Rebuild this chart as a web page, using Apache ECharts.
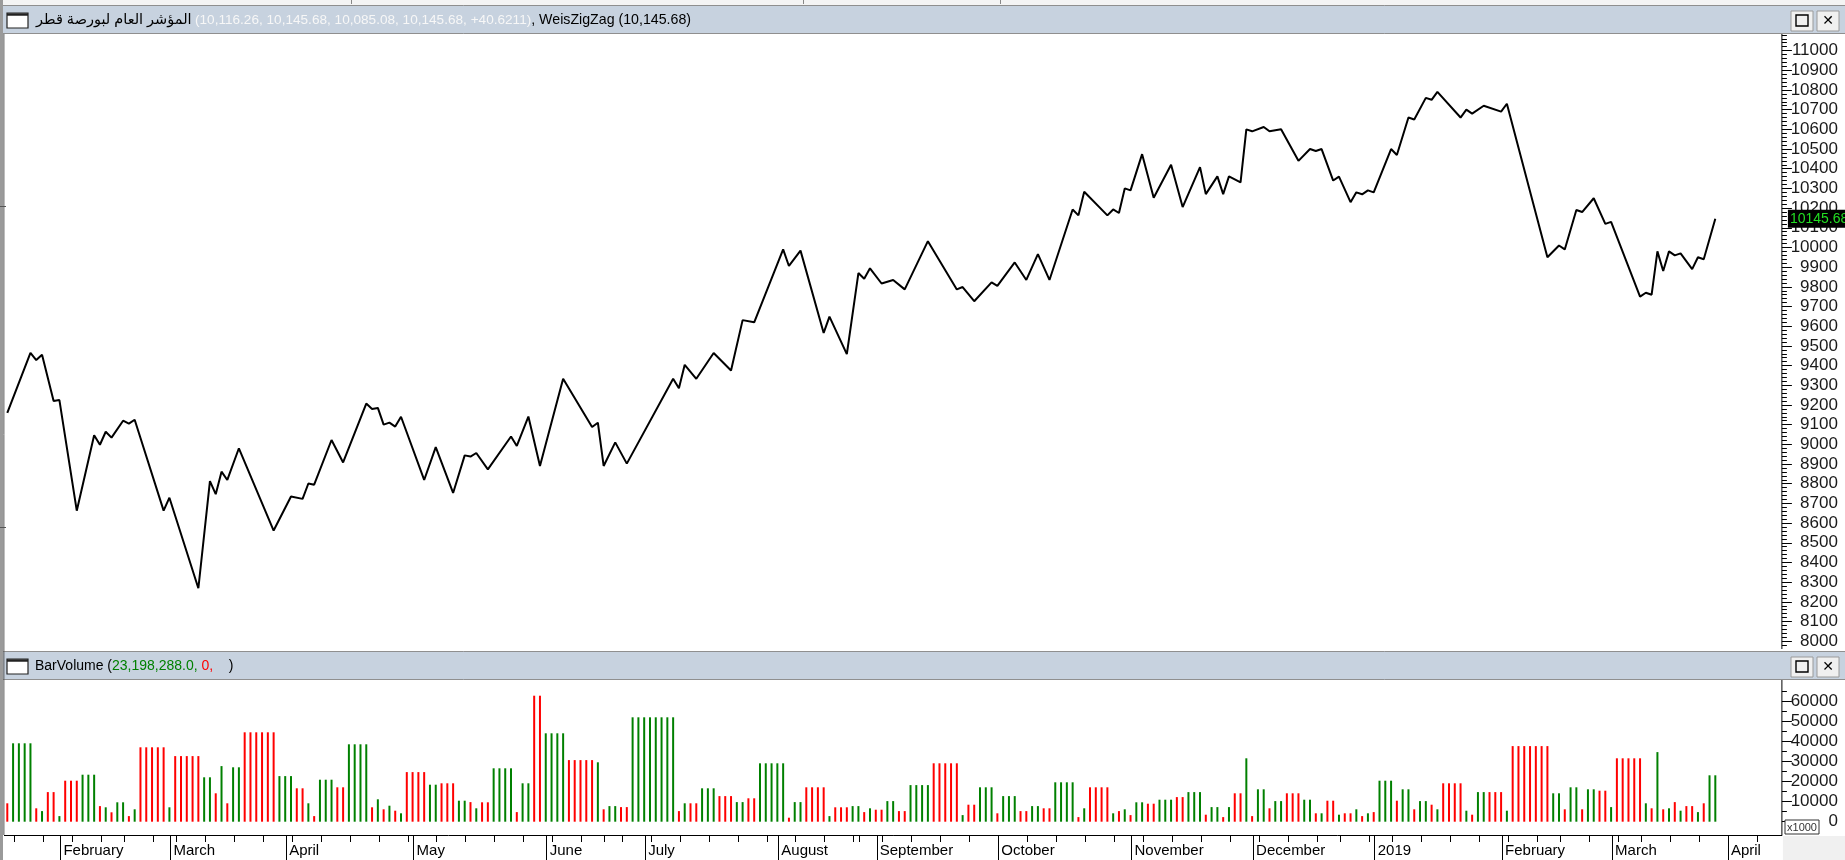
<!DOCTYPE html>
<html><head><meta charset="utf-8">
<script src="https://cdn.jsdelivr.net/npm/echarts@6/dist/echarts.min.js"></script>
<style>html,body{margin:0;padding:0;background:#fff;overflow:hidden}#c{width:1845px;height:860px}</style>
</head><body><div id="c"></div>
<script>
// ---------------- DATA ----------------
const titleName = 'المؤشر العام لبورصة قطر';
const titleValues = '(10,116.26, 10,145.68, 10,085.08, 10,145.68, +40.6211)';
const titleStudy = ', WeisZigZag (10,145.68)';
const volTitle = ['BarVolume (', '23,198,288.0,', ' 0,', '    )'];
const lastPrice = 10145.68;

// zigzag pivots: trading-day index and index value
const pivotIdx = [0,4,5,6,8,9,12,15,16,17,18,20,21,22,27,28,33,35,36,37,38,40,46,49,51,52,53,56,58,62,
  63,64,65,66,67,68,72,74,77,79,80,81,83,87,88,90,92,96,101,102,103,105,107,115,116,117,119,122,125,127,
  129,134,135,137,141,142,145,147,148,149,151,153,155,159,164,165,167,170,171,174,176,178,180,184,185,186,190,191,192,193,
  194,196,198,201,203,206,207,209,210,211,213,214,215,217,218,220,223,225,226,227,229,230,232,233,234,235,236,239,240,242,
  243,245,246,247,251,252,253,255,258,259,266,268,269,271,272,274,276,277,282,283,284,285,286,287,288,289,291,292,293,295];
const pivotVal = [9160,9465,9428,9455,9220,9225,8663,9046,8998,9064,9034,9120,9105,9125,8663,8729,8269,8813,8747,8861,8819,8980,8562,8735,8723,8801,8795,9022,8908,9207,
  9180,9185,9100,9110,9090,9140,8819,8986,8753,8944,8938,8956,8873,9040,8992,9141,8890,9333,9088,9110,8890,9010,8902,9333,9285,9404,9333,9464,9375,9631,
  9620,9990,9906,9984,9566,9649,9458,9870,9841,9894,9817,9835,9787,10032,9787,9799,9727,9823,9805,9924,9835,9966,9835,10193,10163,10283,10163,10193,10175,10300,
  10290,10474,10253,10420,10205,10408,10271,10361,10271,10361,10331,10600,10590,10612,10590,10600,10440,10500,10490,10500,10340,10360,10230,10280,10270,10290,10280,10500,10470,10660,
  10650,10760,10750,10790,10660,10700,10680,10720,10690,10730,9950,10010,9990,10190,10180,10250,10120,10130,9750,9770,9760,9980,9880,9980,9960,9970,9890,9950,9940,10145.68];

// BarVolume (thousands of shares), one per trading day
const volume = [
  9200,39200,39200,39200,39200,6700,5300,14800,14800,2800,
  20500,20500,20500,23500,23500,23500,7800,7200,4700,9700,
  9700,2800,6200,37200,37200,37200,37200,37200,7200,32800,
  32800,32800,32800,32800,22200,22200,14200,27800,9200,27200,
  27200,44700,44700,44700,44700,44700,44700,22800,22800,22800,
  16700,16700,9200,2800,21000,21000,21000,17200,17200,38700,
  38700,38700,38700,7200,11200,6200,8000,5500,4200,24800,
  24800,24800,24800,18500,18500,19200,19200,19200,10500,10500,
  9800,6700,9700,9700,26700,26700,26700,26700,4800,19200,
  19200,63000,63000,44200,44200,44200,44200,30800,30800,30800,
  30800,30800,29700,6200,7800,7800,7300,7300,52200,52200,
  52200,52200,52200,52200,52200,52200,5300,9200,9200,9200,
  16700,16700,16700,12800,12800,12800,9800,9800,11700,11700,
  29200,29200,29200,29200,29200,2000,9800,9800,17200,17200,
  17200,17200,2800,7200,7200,7200,7800,7800,4800,6700,
  6000,6000,10300,10300,5300,5300,18300,18300,18300,18300,
  29200,29200,29200,29200,29200,3300,8500,8500,17200,17200,
  17200,4200,12800,12800,12800,5300,5300,7800,7800,6700,
  6700,19700,19700,19700,19700,2300,6700,17200,17200,17200,
  17200,4200,5300,6200,3300,9700,9700,9000,9000,11000,
  11000,11000,12300,12300,14800,14800,14800,3500,7300,7300,
  2300,7300,14200,14200,31700,2800,16200,16200,6700,10300,
  10300,14200,14200,14200,11000,11000,4200,4200,10500,10500,
  3500,4200,4200,6200,2800,4200,4800,20500,20500,20500,
  10500,16200,16200,6200,10300,10300,8500,6200,19200,19200,
  19200,19200,5500,3500,14800,14800,14800,14800,14800,5500,
  37800,37800,37800,37800,37800,37800,37800,14200,14200,6200,
  17200,17200,6200,16200,16200,15500,15500,7300,31700,31700,
  31700,31700,31700,9200,6700,34800,6200,6700,9800,5500,
  7800,7800,4800,9200,23200,23200];
// wave direction of each bar: u = up wave (green), d = down wave (red)
const volDir = ('d uuuu d u dd u ddd uuu d u d uu d u ddddd u ddddd uu d u d uu dddddd uuu ' +
  'dd u d uuu dd uuuu d u d u d u dddd uu ddd uu d u dd uuuu d uu dd uuuu ddd ' +
  'dd u d uu dd uuuuuuuu d u dd uuu ddd uu dd uuuuu d uu dddd u ddd uu d u ' +
  'dd uu dd uuuu ddddd u dd uuu d uuu dd uu dd uuuu d u dddd u d u d uu dd u ' +
  'uu dd uuu d uu d u dd u d uu d uu ddd uu d u dd u dd u d u d uuu d uu d uu d u dd ' +
  'dd u d uu ddd u ddddddd uu d uu d uu dd u ddddd u d u d u d u dd u d uu').replace(/ /g, '').split('');

// x axis: first trading-day index of each month, month names, and week boundaries (index of last bar before a new week)
const monthStart = [10, 29, 49, 71, 94, 111, 134, 151, 172, 195, 216, 237, 259, 278, 298];
const monthNames = ['February','March','April','May','June','July','August','September','October','November','December','2019','February','March','April'];
const weekEnd = [1,6,11,16,20,25,29,34,39,44,49,54,59,64,69,74,79,84,89,94,99,103,106,111,116,121,126,131,136,141,146,147,
  151,156,161,166,171,176,181,186,191,196,201,206,211,216,221,226,230,235,239,244,249,254,259,264,268,273,278,282,287,292,297,302];
const slots = 307; // trading-day slots shown on the x axis

const priceTicks = []; for (let v = 8000; v <= 11000; v += 100) priceTicks.push(v);
const volTicks = [0, 10000, 20000, 30000, 40000, 50000, 60000];

// ---------------- LAYOUT ----------------
const W = 1845, H = 860;
const PL = 4.4, PR = 1781.9;
const P_TOP = 34, P_BOT = 649;
const V_TOP = 680, V_BOT = 835;
const pxPer100 = (641.2 - 50.6) / 30;
const pMax = 11000 + (50.6 - P_TOP) / pxPer100 * 100;
const pMin = 8000 - (P_BOT - 641.2) / pxPer100 * 100;
const vPx = 120 / 60000;
const vMax = 60000 + (701.7 - V_TOP) / vPx;
const vMin = -(V_BOT - 821.7) / vPx;
const GREEN = '#008000', RED = '#ff0000';
const FONT = '"Liberation Sans", Arial, "DejaVu Sans", sans-serif';
const TBAR = '#c7d2df';

const minorP = []; for (let v = 7980; v <= 11080; v += 20) if (v % 100 !== 0) minorP.push(v);
const minorV = []; for (let v = 5000; v <= 65000; v += 10000) minorV.push(v);
const monthPos = monthStart.map(s => s - 1 + 0.17);
const weekPos = weekEnd.map(s => s + 0.17);
const monthLabel = {}; monthPos.forEach((p, i) => monthLabel[p.toFixed(2)] = monthNames[i]);

const chart = echarts.init(document.getElementById('c'), null, {renderer: 'canvas', width: W, height: H});

function titleBar(y, h) {
  return [
    {type: 'rect', shape: {x: 3, y: y, width: W - 3, height: h}, style: {fill: TBAR, stroke: null}, z: 1, silent: true},
    {type: 'line', shape: {x1: 3, y1: y + 0.5, x2: W, y2: y + 0.5}, style: {stroke: '#8f8f8f', lineWidth: 1}, z: 2},
    {type: 'line', shape: {x1: 3, y1: y + h - 0.5, x2: W, y2: y + h - 0.5}, style: {stroke: '#8f8f8f', lineWidth: 1}, z: 2},
    {type: 'rect', shape: {x: 7, y: y + 8, width: 21, height: 15}, style: {fill: '#fff', stroke: '#222', lineWidth: 1.2}, z: 3},
    {type: 'line', shape: {x1: 7, y1: y + 9.5, x2: 28, y2: y + 9.5}, style: {stroke: '#222', lineWidth: 2.5}, z: 3},
    {type: 'rect', shape: {x: 1791, y: y + 6, width: 22, height: 20}, style: {fill: '#f0f0f0', stroke: '#9a9a9a'}, z: 3},
    {type: 'rect', shape: {x: 1796, y: y + 10, width: 12, height: 11}, style: {fill: null, stroke: '#000', lineWidth: 1.4}, z: 4},
    {type: 'rect', shape: {x: 1817, y: y + 6, width: 22, height: 20}, style: {fill: '#f0f0f0', stroke: '#9a9a9a'}, z: 3},
    {type: 'text', x: 1828, y: y + 16, style: {text: '✕', fill: '#000', font: 'bold 14px ' + FONT, align: 'center', verticalAlign: 'middle'}, z: 4}
  ];
}

const graphics = [
  {type: 'rect', shape: {x: 0, y: 0, width: W, height: 5}, style: {fill: '#f4f4f4'}, z: 0},
  {type: 'line', shape: {x1: 351.5, y1: 0, x2: 351.5, y2: 4}, style: {stroke: '#888', lineWidth: 1}, z: 2},
  {type: 'line', shape: {x1: 803.5, y1: 0, x2: 803.5, y2: 4}, style: {stroke: '#888', lineWidth: 1}, z: 2},
  {type: 'line', shape: {x1: 1000.5, y1: 0, x2: 1000.5, y2: 4}, style: {stroke: '#888', lineWidth: 1}, z: 2},
  {type: 'line', shape: {x1: 1.5, y1: 0, x2: 1.5, y2: H}, style: {stroke: '#9a9a9a', lineWidth: 3}, z: 5},
  {type: 'line', shape: {x1: PL - 0.5, y1: P_TOP, x2: PL - 0.5, y2: V_BOT}, style: {stroke: '#555', lineWidth: 1}, z: 5},
  {type: 'line', shape: {x1: 0, y1: 206.5, x2: 6, y2: 206.5}, style: {stroke: '#555', lineWidth: 1}, z: 6},
  {type: 'line', shape: {x1: 0, y1: 527.5, x2: 6, y2: 527.5}, style: {stroke: '#555', lineWidth: 1}, z: 6},
  ...titleBar(5, 29),
  ...titleBar(651, 29),
  {type: 'rect', shape: {x: PR + 1, y: V_BOT + 1, width: W - PR, height: H - V_BOT}, style: {fill: '#f0f0f0'}, z: 1},
  {type: 'line', shape: {x1: PR, y1: P_TOP, x2: PR, y2: P_BOT}, style: {stroke: '#000', lineWidth: 1}, z: 6},
  {type: 'line', shape: {x1: PR, y1: V_TOP, x2: PR, y2: V_BOT}, style: {stroke: '#000', lineWidth: 1}, z: 6},
  {type: 'text', x: 36, y: 20, z: 5, style: {text: titleName, fill: '#000', font: '14.5px ' + FONT, verticalAlign: 'middle'}},
  {type: 'text', x: 195, y: 20, z: 5, style: {
    text: '{v|' + titleValues + '}{s|' + titleStudy + '}',
    verticalAlign: 'middle',
    rich: {v: {fill: '#f7f7f7', font: '13.6px ' + FONT}, s: {fill: '#000', font: '14.2px ' + FONT}}}},
  {type: 'text', x: 35, y: 666, z: 5, style: {
    text: '{a|' + volTitle[0] + '}{g|' + volTitle[1] + '}{r|' + volTitle[2] + '}{a|' + volTitle[3] + '}',
    verticalAlign: 'middle',
    rich: {a: {fill: '#000', font: '14px ' + FONT}, g: {fill: GREEN, font: '14px ' + FONT}, r: {fill: RED, font: '14px ' + FONT}}}},
  {type: 'rect', shape: {x: 1785, y: 820, width: 34, height: 14}, style: {fill: '#fff', stroke: '#333'}, z: 6},
  {type: 'text', x: 1802, y: 827.5, style: {text: 'x1000', fill: '#333', font: '11px ' + FONT, align: 'center', verticalAlign: 'middle'}, z: 7}
];

const grids = [
  {left: PL, right: W - PR, top: P_TOP, height: P_BOT - P_TOP, containLabel: false},
  {left: PL, right: W - PR, top: V_TOP, height: V_BOT - V_TOP, containLabel: false}
];

const xBase = {type: 'value', min: -0.5, max: slots - 0.5, splitLine: {show: false}};
const xAxes = [
  Object.assign({}, xBase, {gridIndex: 0, show: false}),
  Object.assign({}, xBase, {gridIndex: 1, position: 'bottom',
    axisLine: {show: true, onZero: false, lineStyle: {color: '#000', width: 1}},
    axisTick: {show: true, customValues: weekPos, length: 7, lineStyle: {color: '#000'}},
    axisLabel: {show: false}}),
  Object.assign({}, xBase, {gridIndex: 1, position: 'bottom',
    axisLine: {show: false, onZero: false},
    axisTick: {show: true, customValues: monthPos, length: 26, lineStyle: {color: '#000'}},
    axisLabel: {show: true, customValues: monthPos, margin: 8, align: 'left', padding: [0, 0, 0, 3],
      fontFamily: FONT, fontSize: 15, color: '#000',
      formatter: v => monthLabel[(+v).toFixed(2)] || ''}})
];

const plain = v => String(Math.round(v));
const yAxes = [
  {type: 'value', gridIndex: 0, position: 'right', min: pMin, max: pMax, splitLine: {show: false},
    axisLine: {show: false, onZero: false}, axisTick: {show: true, customValues: priceTicks, length: 10, lineStyle: {color: '#000'}},
    axisLabel: {show: true, customValues: priceTicks, align: 'right', margin: 56, fontFamily: FONT, fontSize: 17, color: '#1a1a1a', formatter: plain}},
  {type: 'value', gridIndex: 0, position: 'left', offset: -(PR - PL), min: pMin, max: pMax, splitLine: {show: false},
    axisLine: {show: false, onZero: false}, axisTick: {show: true, inside: true, customValues: minorP, length: 5, lineStyle: {color: '#000'}},
    axisLabel: {show: false}},
  {type: 'value', gridIndex: 1, position: 'right', min: vMin, max: vMax, splitLine: {show: false},
    axisLine: {show: false, onZero: false}, axisTick: {show: true, customValues: volTicks, length: 10, lineStyle: {color: '#000'}},
    axisLabel: {show: true, customValues: volTicks, align: 'right', margin: 56, fontFamily: FONT, fontSize: 17, color: '#1a1a1a', formatter: plain}},
  {type: 'value', gridIndex: 1, position: 'left', offset: -(PR - PL), min: vMin, max: vMax, splitLine: {show: false},
    axisLine: {show: false, onZero: false}, axisTick: {show: true, inside: true, customValues: minorV, length: 5, lineStyle: {color: '#000'}},
    axisLabel: {show: false}}
];

const option = {
  animation: false,
  backgroundColor: '#fff',
  grid: grids,
  xAxis: xAxes,
  yAxis: yAxes,
  graphic: graphics,
  series: [
    {type: 'line', xAxisIndex: 0, yAxisIndex: 0, data: pivotIdx.map((x, k) => [x, pivotVal[k]]),
      symbol: 'none', lineStyle: {color: '#000', width: 2}, z: 3},
    {type: 'bar', xAxisIndex: 1, yAxisIndex: 2, barWidth: 2,
      data: volume.map((v, i) => ({value: [i, v], itemStyle: {color: volDir[i] === 'u' ? GREEN : RED}})), z: 3}
  ]
};
chart.setOption(option);

const yLast = chart.convertToPixel({yAxisIndex: 0}, lastPrice);
chart.setOption({graphic: graphics.concat([
  {type: 'rect', shape: {x: PR + 6, y: yLast - 9, width: W - PR - 6, height: 18}, style: {fill: '#000'}, z: 8},
  {type: 'text', x: PR + 8, y: yLast, style: {text: lastPrice.toFixed(2), fill: '#22dd22', font: '14px ' + FONT, verticalAlign: 'middle'}, z: 9}
])});
</script>
</body></html>
